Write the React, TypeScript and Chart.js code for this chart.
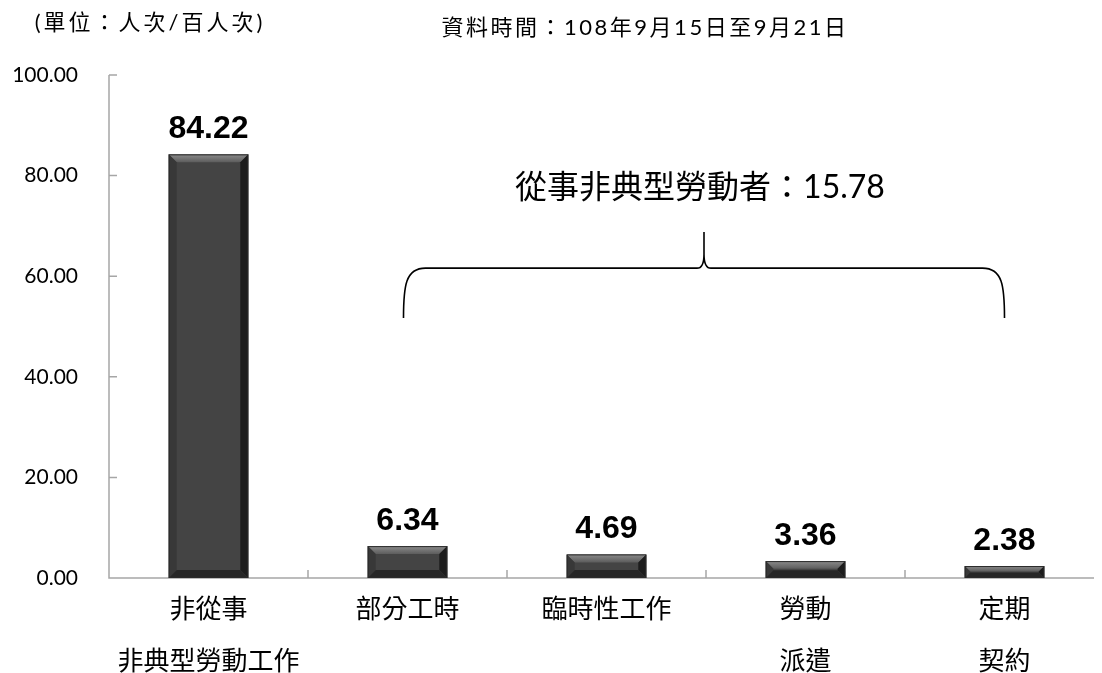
import React, { useEffect, useRef } from "react";
import { Chart, registerables } from "chart.js";

Chart.register(...registerables);

const categories: string[][] = [
  ["非從事", "非典型勞動工作"],
  ["部分工時"],
  ["臨時性工作"],
  ["勞動", "派遣"],
  ["定期", "契約"],
];
const values: number[] = [84.22, 6.34, 4.69, 3.36, 2.38];
const yTicks: number[] = [0, 20, 40, 60, 80, 100];
const unitLabel = "(單位：人次/百人次)";
const dateLabel = "資料時間：108年9月15日至9月21日";
const bracketLabel = "從事非典型勞動者：15.78";
const bracketFrom = 1;
const bracketTo = 4;
const bracketEndValue = 51.7;
const bracketLineValue = 61.6;
const bracketPeakValue = 68.8;
const bracketTextValue = 77.5;

const FONT = "Lato, 'Noto Sans CJK TC', sans-serif";
const AXIS_COLOR = "#a6a6a6";

const decor = {
  id: "decor",
  beforeDatasetsDraw(chart: any) {
    const { ctx, chartArea, scales } = chart;
    const ys = scales.y;
    const xs = scales.x;
    ctx.save();
    ctx.strokeStyle = AXIS_COLOR;
    ctx.lineWidth = 1.5;
    ctx.beginPath();
    ctx.moveTo(chartArea.left, chartArea.top);
    ctx.lineTo(chartArea.left, chartArea.bottom);
    ctx.lineTo(chartArea.right, chartArea.bottom);
    yTicks.forEach((v) => {
      if (v === 0) return;
      const py = ys.getPixelForValue(v);
      ctx.moveTo(chartArea.left, py);
      ctx.lineTo(chartArea.left + 8, py);
    });
    for (let i = 0; i < categories.length - 1; i++) {
      const px = (xs.getPixelForValue(i) + xs.getPixelForValue(i + 1)) / 2;
      ctx.moveTo(px, chartArea.bottom);
      ctx.lineTo(px, chartArea.bottom - 8);
    }
    ctx.stroke();
    ctx.restore();
  },
  afterDatasetsDraw(chart: any) {
    const { ctx } = chart;
    const meta = chart.getDatasetMeta(0);
    meta.data.forEach((bar: any, i: number) => {
      const { x, y, base, width } = bar.getProps(["x", "y", "base", "width"], true);
      const l = x - width / 2;
      const r = x + width / 2;
      const t = y;
      const b = base;
      const h = b - t;
      const bv = Math.min(8, h / 2.2);
      ctx.save();
      const g = ctx.createLinearGradient(0, t, 0, t + bv);
      g.addColorStop(0, "#8c8c8c");
      g.addColorStop(1, "#5c5c5c");
      ctx.fillStyle = g;
      ctx.beginPath();
      ctx.moveTo(l, t);
      ctx.lineTo(r, t);
      ctx.lineTo(r - bv, t + bv);
      ctx.lineTo(l + bv, t + bv);
      ctx.closePath();
      ctx.fill();
      ctx.fillStyle = "#383838";
      ctx.beginPath();
      ctx.moveTo(l, t);
      ctx.lineTo(l + bv, t + bv);
      ctx.lineTo(l + bv, b - bv);
      ctx.lineTo(l, b);
      ctx.closePath();
      ctx.fill();
      ctx.fillStyle = "#1c1c1c";
      ctx.beginPath();
      ctx.moveTo(r, t);
      ctx.lineTo(r, b);
      ctx.lineTo(r - bv, b - bv);
      ctx.lineTo(r - bv, t + bv);
      ctx.closePath();
      ctx.fill();
      ctx.fillStyle = "#262626";
      ctx.beginPath();
      ctx.moveTo(l, b);
      ctx.lineTo(r, b);
      ctx.lineTo(r - bv, b - bv);
      ctx.lineTo(l + bv, b - bv);
      ctx.closePath();
      ctx.fill();
      ctx.strokeStyle = "#2a2a2a";
      ctx.lineWidth = 1;
      ctx.strokeRect(l + 0.5, t + 0.5, width - 1, h - 1);
      ctx.fillStyle = "#000";
      ctx.font = `bold 32px 'Liberation Sans', Arial, sans-serif`;
      ctx.textAlign = "center";
      ctx.textBaseline = "middle";
      ctx.fillText(values[i].toFixed(2), x, t - 25);
      ctx.restore();
    });
  },
  afterDraw(chart: any) {
    const { ctx, scales } = chart;
    const xs = scales.x;
    const ys = scales.y;
    ctx.save();
    const L = xs.getPixelForValue(bracketFrom) - 4;
    const R = xs.getPixelForValue(bracketTo);
    const M = (L + R) / 2;
    const yEnd = ys.getPixelForValue(bracketEndValue);
    const yLine = ys.getPixelForValue(bracketLineValue);
    const yPeak = ys.getPixelForValue(bracketPeakValue);
    ctx.strokeStyle = "#000";
    ctx.lineWidth = 1.6;
    ctx.beginPath();
    ctx.moveTo(L, yEnd);
    ctx.bezierCurveTo(L, yEnd - 32, L + 2, yLine, L + 22, yLine);
    ctx.lineTo(M - 7, yLine);
    ctx.quadraticCurveTo(M, yLine, M, yLine - 14);
    ctx.lineTo(M, yPeak);
    ctx.moveTo(M, yLine - 14);
    ctx.quadraticCurveTo(M, yLine, M + 7, yLine);
    ctx.lineTo(R - 22, yLine);
    ctx.bezierCurveTo(R - 2, yLine, R, yEnd - 32, R, yEnd);
    ctx.stroke();
    ctx.fillStyle = "#000";
    ctx.textAlign = "center";
    ctx.textBaseline = "middle";
    ctx.font = `32px ${FONT}`;
    ctx.fillText(bracketLabel, M - 4, ys.getPixelForValue(bracketTextValue));
    (ctx as any).letterSpacing = "3px";
    ctx.font = `22px ${FONT}`;
    ctx.fillText(unitLabel, 142, 15);
    (ctx as any).letterSpacing = "2.5px";
    ctx.font = `22px ${FONT}`;
    ctx.fillText(dateLabel, 637, 20);
    (ctx as any).letterSpacing = "0px";
    ctx.restore();
  },
};

export default function App() {
  const ref = useRef<HTMLCanvasElement | null>(null);
  useEffect(() => {
    document.documentElement.style.overflow = "hidden";
    if (!ref.current) return;
    const chart = new Chart(ref.current, {
      type: "bar",
      data: {
        labels: categories,
        datasets: [
          {
            data: values,
            backgroundColor: "#444444",
            borderWidth: 0,
            barPercentage: 0.4,
            categoryPercentage: 1,
          },
        ],
      },
      options: {
        animation: false,
        responsive: true,
        maintainAspectRatio: false,
        layout: { padding: { top: 67, left: 0, right: 0, bottom: 0 } },
        plugins: {
          legend: { display: false },
          tooltip: { enabled: false },
        },
        scales: {
          x: {
            grid: { display: false, drawTicks: false },
            border: { display: false },
            ticks: {
              color: "#000",
              font: { family: FONT, size: 26, lineHeight: 2.0 },
              padding: 6,
              maxRotation: 0,
              minRotation: 0,
              autoSkip: false,
            },
            afterFit: (s: any) => {
              s.height = 95;
            },
          },
          y: {
            min: 0,
            max: 100,
            grid: { display: false, drawTicks: false },
            border: { display: false },
            afterBuildTicks: (s: any) => {
              s.ticks = yTicks.map((v) => ({ value: v }));
            },
            ticks: {
              color: "#000",
              font: { family: FONT, size: 21 },
              padding: 31,
              callback: (v: any) => Number(v).toFixed(2),
            },
            afterFit: (s: any) => {
              s.width = 101;
            },
          },
        },
      },
      plugins: [decor],
    });
    return () => chart.destroy();
  }, []);
  return (
    <div style={{ position: "relative", width: "1096px", height: "665px" }}>
      <canvas ref={ref} />
    </div>
  );
}
